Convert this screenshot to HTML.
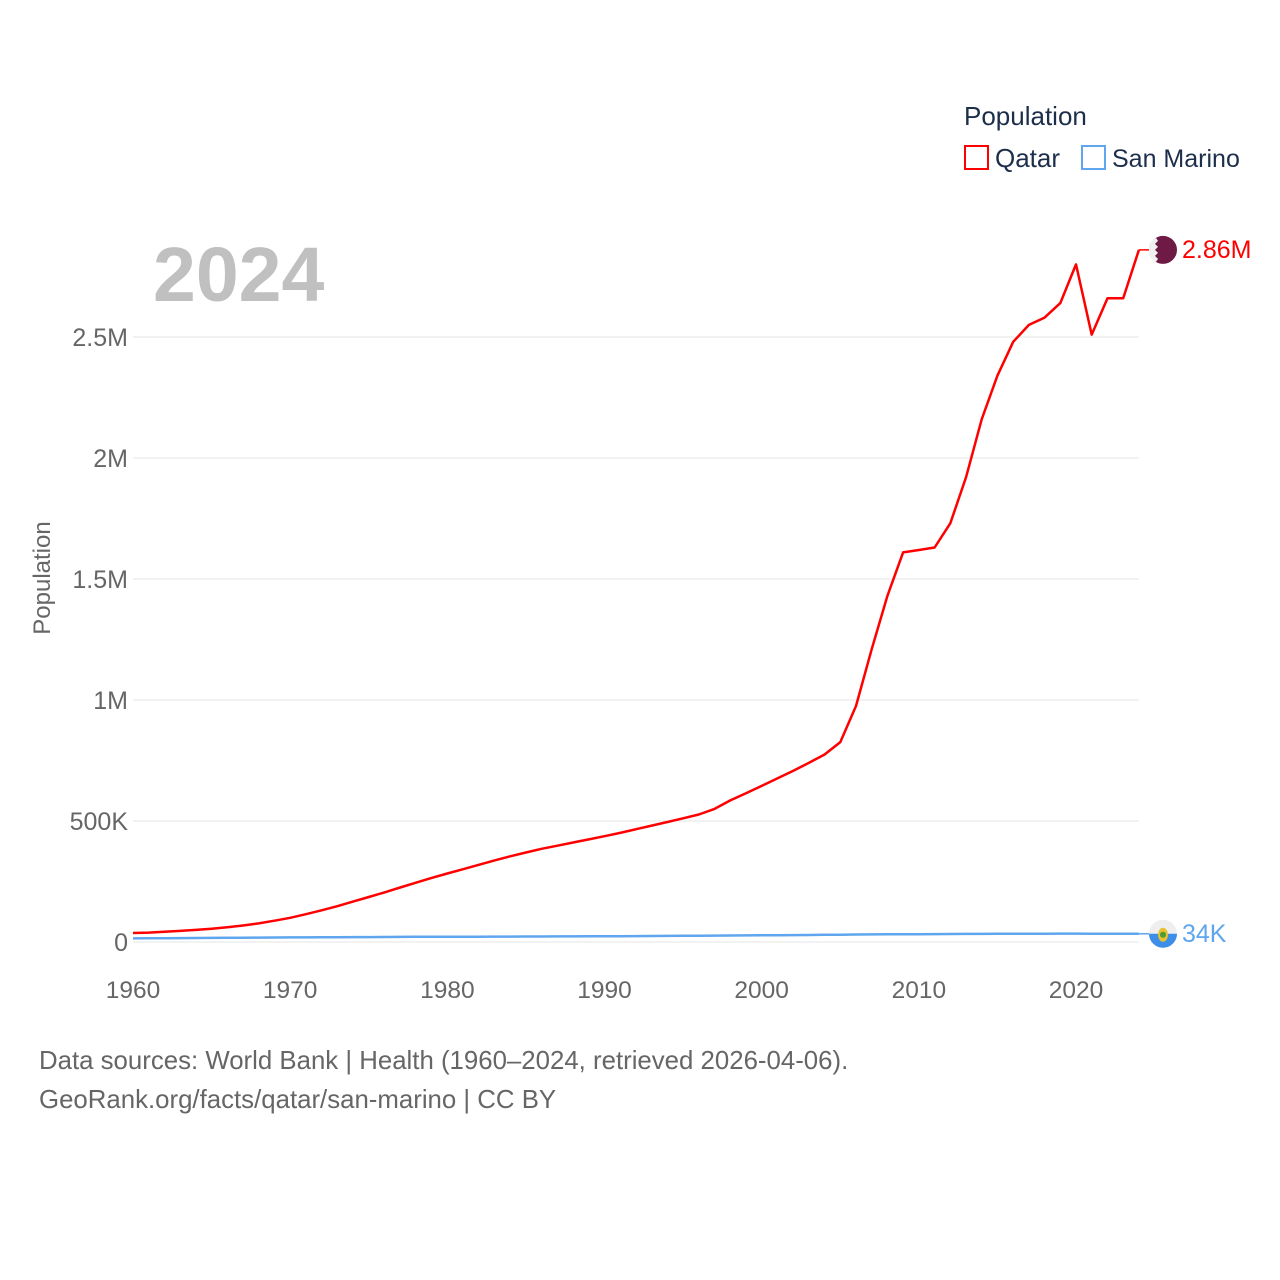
<!DOCTYPE html>
<html><head><meta charset="utf-8">
<style>
body{margin:0;background:#fff;font-family:"Liberation Sans",sans-serif;}
svg{display:block}
</style></head>
<body>
<svg id="chart" width="1280" height="1280" viewBox="0 0 1280 1280">
  <text x="964" y="125" font-size="26" fill="#1c2e4a">Population</text>
  <g>
    <rect x="965" y="146" width="23" height="23" fill="none" stroke="#ff0000" stroke-width="2"/>
    <text x="995" y="167" font-size="26" fill="#1c2e4a">Qatar</text>
  </g>
  <g>
    <rect x="1082" y="146" width="23" height="23" fill="none" stroke="#5fa6ee" stroke-width="2"/>
    <text x="1112" y="167" font-size="25" fill="#1c2e4a">San Marino</text>
  </g>
  <text x="153" y="301" font-size="77" font-weight="bold" fill="#c0c0c0">2024</text>
  <text transform="translate(50,578) rotate(-90)" text-anchor="middle" font-size="24" fill="#666">Population</text>
  <g id="grid"></g>
  <g id="yticks"></g>
  <g id="xticks"></g>
  <g id="series"></g>
  <text x="39" y="1069" font-size="25.8" fill="#666">Data sources: World Bank | Health (1960–2024, retrieved 2026-04-06).</text>
  <text x="39" y="1108" font-size="25.8" fill="#666">GeoRank.org/facts/qatar/san-marino | CC BY</text>
</svg>
<script>
const years = [];
for (let y = 1960; y <= 2024; y++) years.push(y);
const qatar = [37000,39000,42000,46000,50000,55000,61000,68000,77000,88000,100000,115000,131000,148000,167000,186000,205000,225000,245000,265000,283000,301000,319000,337000,354000,370000,385000,398000,411000,424000,437000,451000,466000,481000,496000,511000,527000,550000,585000,615000,645000,676000,707000,740000,775000,826000,975000,1210000,1430000,1610000,1620000,1630000,1730000,1920000,2160000,2340000,2480000,2550000,2580000,2640000,2800000,2510000,2660000,2660000,2860000];
const sanMarino = [15000,15300,15700,16100,16500,16900,17300,17700,18100,18500,18900,19200,19500,19800,20100,20400,20800,21100,21400,21600,21800,22000,22100,22300,22500,22700,22900,23100,23300,23500,23700,24000,24300,24700,25100,25500,26000,26500,27000,27400,27800,28200,28600,29000,29600,30200,30800,31300,31800,32200,32400,32700,33000,33400,33600,33800,34000,34200,34500,34700,34800,34500,34200,34000,34000];
const yTickVals = [0,500000,1000000,1500000,2000000,2500000];
const yTickLabels = ["0","500K","1M","1.5M","2M","2.5M"];
const xTickVals = [1960,1970,1980,1990,2000,2010,2020];
const endLabels = ["2.86M","34K"];

const NS = "http://www.w3.org/2000/svg";
const X0 = 133, X1 = 1138.9, Y0 = 942, YPX = 121/500000;
function xs(y){ return X0 + (y-1960)*(X1-X0)/64; }
function ys(v){ return Y0 - v*YPX; }
function mk(tag, attrs, parent){ const e=document.createElementNS(NS,tag); for(const k in attrs) e.setAttribute(k,attrs[k]); parent.appendChild(e); return e; }

const grid=document.getElementById('grid'), yt=document.getElementById('yticks'), xt=document.getElementById('xticks'), ser=document.getElementById('series');
yTickVals.forEach((v,i)=>{
  const l=mk('line',{x1:X0,x2:X1,y1:ys(v),y2:ys(v),stroke:'#e6e6e6','stroke-width':1},grid);
  
  
  const t=mk('text',{x:128,y:ys(v)+9,'text-anchor':'end','font-size':25,fill:'#666'},yt);
  t.textContent=yTickLabels[i];
  
  
});
xTickVals.forEach(v=>{
  const t=mk('text',{x:xs(v),y:998,'text-anchor':'middle','font-size':24.5,fill:'#666'},xt);
  t.textContent=String(v);
  
  
});
function drawSeries(vals,color,name,label,flag){
  const d=vals.map((v,i)=>(i?'L':'M')+xs(years[i]).toFixed(1)+','+ys(v).toFixed(1)).join(' ');
  const p=mk('path',{d:d,fill:'none',stroke:color,'stroke-width':2.5,'stroke-linejoin':'round'},ser);
  
  
  const lv=vals[vals.length-1], ly=ys(lv), lx=xs(2024);
  mk('line',{x1:lx,x2:1150,y1:ly,y2:ly,stroke:color,'stroke-width':1.5},ser);
  const g=mk('g',{},ser);
  
  
  flag(g,1163,ly);
  const t=mk('text',{x:1182,y:ly+8,'font-size':25,fill:color},ser);
  t.textContent=label;
  
  
}
drawSeries(qatar,'#ff0000','qatar',endLabels[0],(g,cx,cy)=>{
  mk('circle',{cx:cx,cy:cy,r:14,fill:'#6e1a45'},g);
  mk('path',{d:`M${cx-14},${cy-5} A14,14 0 0,1 ${cx-7},${cy-12} L${cx-5},${cy-9} L${cx-8},${cy-6} L${cx-5},${cy-3} L${cx-8},${cy} L${cx-5},${cy+3} L${cx-8},${cy+6} L${cx-5},${cy+9} L${cx-7},${cy+12} A14,14 0 0,1 ${cx-14},${cy+5} Z`,fill:'#f0f0f0'},g);
});
drawSeries(sanMarino,'#5fa6ee','san-marino',endLabels[1],(g,cx,cy)=>{
  mk('circle',{cx:cx,cy:cy,r:14,fill:'#eeeeee'},g);
  mk('path',{d:`M${cx-14},${cy} A14,14 0 0,0 ${cx+14},${cy} Z`,fill:'#3c8ee8'},g);
  mk('ellipse',{cx:cx,cy:cy+1,rx:5,ry:7,fill:'#e7c22e'},g);
  mk('circle',{cx:cx,cy:cy+1,r:3,fill:'#4e9b3a'},g);
});
</script>
</body></html>
